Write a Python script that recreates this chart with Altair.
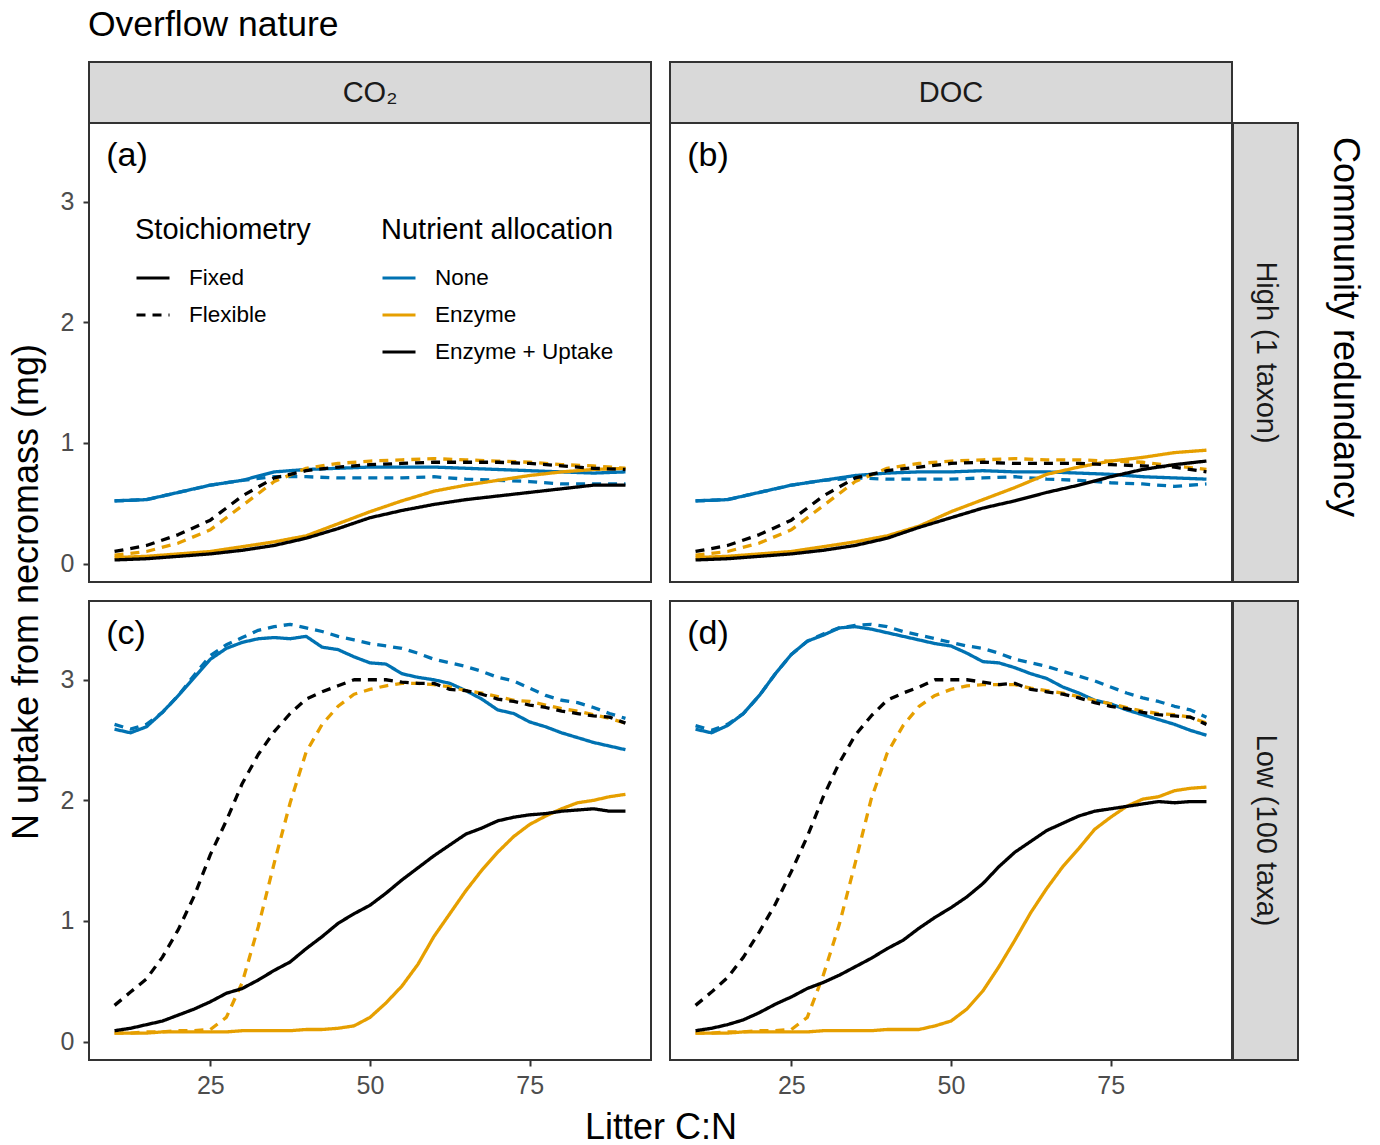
import altair as alt
import pandas as pd

# ---- data -------------------------------------------------------------
alloc_levels = ["None", "Enzyme", "Enzyme + Uptake"]
alloc_colors = ["#0072B2", "#E69F00", "#000000"]
stoich_levels = ["Fixed", "Flexible"]

# litter C:N grid, high-redundancy runs (1 taxon)
cn_high = [10, 15, 20, 25, 30, 35, 40, 45, 50, 55, 60, 65, 70, 75, 80, 85, 90]
# litter C:N grid, low-redundancy runs (100 taxa)
cn_low = [10, 12.5, 15, 17.5, 20, 22.5, 25, 27.5, 30, 32.5, 35, 37.5, 40, 42.5,
          45, 47.5, 50, 52.5, 55, 57.5, 60, 62.5, 65, 67.5, 70, 72.5, 75, 77.5,
          80, 82.5, 85, 87.5, 90]

# High redundancy, CO2 overflow
hi_co2_none_fix = [0.52, 0.53, 0.59, 0.65, 0.69, 0.76, 0.78, 0.79, 0.80, 0.80, 0.80, 0.79, 0.78, 0.77, 0.76, 0.75, 0.76]
hi_co2_none_flex = [0.52, 0.53, 0.59, 0.65, 0.69, 0.72, 0.72, 0.71, 0.71, 0.71, 0.72, 0.70, 0.69, 0.68, 0.66, 0.66, 0.66]
hi_co2_enz_fix = [0.05, 0.06, 0.08, 0.10, 0.14, 0.18, 0.23, 0.33, 0.43, 0.52, 0.60, 0.65, 0.69, 0.73, 0.76, 0.78, 0.79]
hi_co2_enz_flex = [0.07, 0.10, 0.17, 0.28, 0.48, 0.68, 0.79, 0.83, 0.85, 0.86, 0.87, 0.86, 0.85, 0.84, 0.82, 0.81, 0.79]
hi_co2_eu_fix = [0.03, 0.04, 0.06, 0.08, 0.11, 0.15, 0.21, 0.29, 0.38, 0.44, 0.49, 0.53, 0.56, 0.59, 0.62, 0.65, 0.65]
hi_co2_eu_flex = [0.10, 0.15, 0.24, 0.36, 0.56, 0.71, 0.77, 0.80, 0.82, 0.83, 0.84, 0.84, 0.84, 0.83, 0.81, 0.79, 0.78]

# High redundancy, DOC overflow
hi_doc_none_fix = [0.52, 0.53, 0.59, 0.65, 0.69, 0.73, 0.75, 0.76, 0.76, 0.77, 0.76, 0.76, 0.75, 0.74, 0.72, 0.71, 0.70]
hi_doc_none_flex = [0.52, 0.53, 0.59, 0.65, 0.69, 0.71, 0.70, 0.70, 0.70, 0.71, 0.72, 0.70, 0.69, 0.67, 0.66, 0.64, 0.66]
hi_doc_enz_fix = [0.05, 0.06, 0.08, 0.10, 0.14, 0.18, 0.23, 0.31, 0.43, 0.53, 0.63, 0.74, 0.80, 0.85, 0.88, 0.92, 0.94]
hi_doc_enz_flex = [0.07, 0.10, 0.17, 0.28, 0.48, 0.68, 0.79, 0.83, 0.85, 0.86, 0.87, 0.86, 0.86, 0.85, 0.84, 0.81, 0.78]
hi_doc_eu_fix = [0.03, 0.04, 0.06, 0.08, 0.11, 0.15, 0.21, 0.30, 0.38, 0.46, 0.52, 0.59, 0.65, 0.72, 0.78, 0.82, 0.85]
hi_doc_eu_flex = [0.10, 0.15, 0.24, 0.36, 0.56, 0.71, 0.77, 0.80, 0.83, 0.84, 0.83, 0.83, 0.83, 0.82, 0.81, 0.80, 0.76]

# Low redundancy, CO2 overflow
lo_co2_none_fix = [2.59, 2.56, 2.61, 2.73, 2.87, 3.02, 3.17, 3.26, 3.31, 3.34, 3.35, 3.34, 3.36, 3.27,
                   3.25, 3.19, 3.14, 3.13, 3.05, 3.02, 3.00, 2.97, 2.91, 2.84, 2.75, 2.72, 2.65, 2.61,
                   2.56, 2.52, 2.48, 2.45, 2.42]
lo_co2_none_flex = [2.63, 2.59, 2.63, 2.73, 2.87, 3.04, 3.20, 3.29, 3.35, 3.41, 3.44, 3.46, 3.43, 3.40,
                    3.36, 3.33, 3.30, 3.28, 3.26, 3.22, 3.17, 3.14, 3.11, 3.07, 3.02, 2.99, 2.93, 2.87,
                    2.83, 2.81, 2.77, 2.72, 2.68]
lo_co2_enz_fix = [0.07, 0.07, 0.07, 0.08, 0.08, 0.08, 0.08, 0.08, 0.09, 0.09, 0.09, 0.09, 0.10, 0.10,
                  0.11, 0.13, 0.20, 0.32, 0.46, 0.64, 0.87, 1.06, 1.25, 1.42, 1.57, 1.70, 1.80, 1.87,
                  1.93, 1.98, 2.00, 2.03, 2.05]
lo_co2_enz_flex = [0.07, 0.07, 0.08, 0.08, 0.09, 0.09, 0.10, 0.20, 0.49, 0.95, 1.48, 1.98, 2.40, 2.63,
                   2.78, 2.88, 2.92, 2.95, 2.97, 2.97, 2.96, 2.94, 2.91, 2.89, 2.86, 2.83, 2.82, 2.79,
                   2.76, 2.74, 2.71, 2.68, 2.64]
lo_co2_eu_fix = [0.09, 0.11, 0.14, 0.17, 0.22, 0.27, 0.33, 0.40, 0.44, 0.51, 0.59, 0.66, 0.77, 0.87,
                 0.98, 1.06, 1.13, 1.23, 1.34, 1.44, 1.54, 1.63, 1.72, 1.77, 1.83, 1.86, 1.88, 1.89,
                 1.91, 1.92, 1.93, 1.91, 1.91]
lo_co2_eu_flex = [0.30, 0.41, 0.52, 0.70, 0.93, 1.21, 1.55, 1.83, 2.14, 2.38, 2.57, 2.72, 2.84, 2.90,
                  2.95, 3.00, 3.00, 3.00, 2.98, 2.97, 2.97, 2.92, 2.91, 2.88, 2.84, 2.82, 2.79, 2.77,
                  2.74, 2.72, 2.70, 2.69, 2.64]

# Low redundancy, DOC overflow
lo_doc_none_fix = [2.59, 2.56, 2.62, 2.72, 2.87, 3.05, 3.21, 3.32, 3.37, 3.43, 3.44, 3.42, 3.39, 3.36,
                   3.33, 3.30, 3.28, 3.22, 3.15, 3.14, 3.10, 3.05, 3.01, 2.94, 2.89, 2.83, 2.80, 2.75,
                   2.71, 2.67, 2.63, 2.58, 2.54]
lo_doc_none_flex = [2.62, 2.58, 2.63, 2.72, 2.87, 3.05, 3.21, 3.32, 3.38, 3.43, 3.45, 3.46, 3.44, 3.40,
                    3.37, 3.34, 3.31, 3.28, 3.26, 3.22, 3.17, 3.14, 3.11, 3.07, 3.03, 2.99, 2.94, 2.89,
                    2.85, 2.82, 2.78, 2.75, 2.69]
lo_doc_enz_fix = [0.07, 0.07, 0.07, 0.08, 0.08, 0.08, 0.08, 0.08, 0.09, 0.09, 0.09, 0.09, 0.10, 0.10,
                  0.10, 0.13, 0.17, 0.27, 0.42, 0.62, 0.84, 1.07, 1.27, 1.45, 1.60, 1.76, 1.86, 1.95,
                  2.01, 2.03, 2.08, 2.10, 2.11]
lo_doc_enz_flex = [0.07, 0.07, 0.08, 0.08, 0.09, 0.09, 0.10, 0.20, 0.55, 0.97, 1.48, 2.01, 2.39, 2.62,
                   2.78, 2.87, 2.92, 2.95, 2.96, 2.96, 2.96, 2.93, 2.91, 2.89, 2.86, 2.83, 2.80, 2.77,
                   2.74, 2.72, 2.71, 2.69, 2.64]
lo_doc_eu_fix = [0.09, 0.11, 0.14, 0.18, 0.24, 0.31, 0.37, 0.44, 0.49, 0.55, 0.62, 0.69, 0.77, 0.84,
                 0.94, 1.03, 1.11, 1.20, 1.31, 1.45, 1.57, 1.66, 1.75, 1.81, 1.87, 1.91, 1.93, 1.95,
                 1.97, 1.99, 1.98, 1.99, 1.99]
lo_doc_eu_flex = [0.30, 0.41, 0.53, 0.70, 0.91, 1.14, 1.41, 1.70, 2.03, 2.31, 2.54, 2.70, 2.83, 2.89,
                  2.94, 3.00, 3.00, 3.00, 2.98, 2.96, 2.97, 2.92, 2.90, 2.88, 2.85, 2.81, 2.78, 2.76,
                  2.73, 2.71, 2.70, 2.69, 2.63]

panel_tags = ["(a)", "(b)", "(c)", "(d)"]
tag_cn = 8.7
tag_n = 3.38

overflow_labels = ["CO\u2082", "DOC"]
redundancy_labels = ["High (1 taxon)", "Low (100 taxa)"]
figure_title = "Overflow nature"
redundancy_title = "Community redundancy"

y_ticks = [0, 1, 2, 3]
x_ticks = [25, 50, 75]


def long_table(cn, groups):
    rows = []
    for (alloc, stoich), values in groups.items():
        for c, v in zip(cn, values):
            rows.append({"cn": c, "n": v, "alloc": alloc, "stoich": stoich})
    return pd.DataFrame(rows)


df_a = long_table(cn_high, {
    ("None", "Fixed"): hi_co2_none_fix, ("None", "Flexible"): hi_co2_none_flex,
    ("Enzyme", "Fixed"): hi_co2_enz_fix, ("Enzyme", "Flexible"): hi_co2_enz_flex,
    ("Enzyme + Uptake", "Fixed"): hi_co2_eu_fix, ("Enzyme + Uptake", "Flexible"): hi_co2_eu_flex})
df_b = long_table(cn_high, {
    ("None", "Fixed"): hi_doc_none_fix, ("None", "Flexible"): hi_doc_none_flex,
    ("Enzyme", "Fixed"): hi_doc_enz_fix, ("Enzyme", "Flexible"): hi_doc_enz_flex,
    ("Enzyme + Uptake", "Fixed"): hi_doc_eu_fix, ("Enzyme + Uptake", "Flexible"): hi_doc_eu_flex})
df_c = long_table(cn_low, {
    ("None", "Fixed"): lo_co2_none_fix, ("None", "Flexible"): lo_co2_none_flex,
    ("Enzyme", "Fixed"): lo_co2_enz_fix, ("Enzyme", "Flexible"): lo_co2_enz_flex,
    ("Enzyme + Uptake", "Fixed"): lo_co2_eu_fix, ("Enzyme + Uptake", "Flexible"): lo_co2_eu_flex})
df_d = long_table(cn_low, {
    ("None", "Fixed"): lo_doc_none_fix, ("None", "Flexible"): lo_doc_none_flex,
    ("Enzyme", "Fixed"): lo_doc_enz_fix, ("Enzyme", "Flexible"): lo_doc_enz_flex,
    ("Enzyme + Uptake", "Fixed"): lo_doc_eu_fix, ("Enzyme + Uptake", "Flexible"): lo_doc_eu_flex})

# ---- styling ----------------------------------------------------------
FONT = "Liberation Sans"
PW, PH = 562, 459          # panel size
STRIP_H, STRIP_W = 61, 65  # strip thickness
GAP = 19
BORDER = "#333333"
STRIP_FILL = "#D9D9D9"

x_scale = alt.Scale(domain=[6, 94], nice=False, zero=False)
y_scale = alt.Scale(domain=[-0.153, 3.653], nice=False, zero=False)

tick_style = dict(tickSize=6, tickWidth=2, tickColor=BORDER, labelFontSize=25,
                  labelColor="#4D4D4D", labelFont=FONT, domain=False, grid=False)


def x_axis(show, title=False):
    if not show:
        return None
    if title:
        extra = dict(title="Litter C:N", titleFontSize=36, titleFont=FONT,
                     titleFontWeight="normal", titleColor="black",
                     titleX=PW + GAP / 2, titleY=67, titleAlign="center",
                     titleBaseline="middle")
    else:
        extra = dict(title=None)
    return alt.Axis(values=x_ticks, labelPadding=7, **tick_style, **extra)


def y_axis(show, title=False):
    if not show:
        return None
    if title:
        extra = dict(title="N uptake from necromass (mg)", titleFontSize=36,
                     titleFont=FONT, titleFontWeight="normal", titleColor="black",
                     titleX=-63, titleY=PH + GAP / 2, titleAngle=270,
                     titleAlign="center", titleBaseline="middle")
    else:
        extra = dict(title=None)
    return alt.Axis(values=y_ticks, format="d", labelPadding=9, **tick_style, **extra)


legend_style = dict(
    orient="none", legendY=93, direction="vertical",
    symbolType="stroke", symbolSize=1089, symbolStrokeWidth=3,
    titleFontSize=29, titleFont=FONT, titleFontWeight="normal", titleColor="black",
    labelFontSize=22.5, labelFont=FONT, labelColor="black", labelOffset=18,
    titlePadding=15, rowPadding=7, padding=0, labelLimit=400, titleLimit=400)

dash_legend = alt.Legend(title="Stoichiometry", legendX=46, symbolStrokeColor="black",
                         **legend_style)
color_legend = alt.Legend(title="Nutrient allocation", legendX=292, **legend_style)


def strip_text(text, x, y, size=29, angle=0, color="#1A1A1A"):
    return alt.Chart(pd.DataFrame({"label": [text]})).mark_text(
        fontSize=size, font=FONT, color=color, angle=angle, baseline="middle",
        align="center").encode(text="label:N", x=alt.value(x), y=alt.value(y))


def strip_box(x, x2, y, y2):
    return alt.Chart(pd.DataFrame({"label": [""]})).mark_rect(
        fill=STRIP_FILL, stroke=BORDER, strokeWidth=2).encode(
        x=alt.value(x), x2=alt.value(x2), y=alt.value(y), y2=alt.value(y2))


def top_strip(text):
    return [strip_box(0, PW, -STRIP_H, 0), strip_text(text, PW / 2, -STRIP_H / 2)]


def right_strip(text):
    return [strip_box(PW + 1, PW + 1 + STRIP_W, 0, PH),
            strip_text(text, PW + 1 + STRIP_W / 2, PH / 2, angle=90)]


def panel(df, tag, show_x, show_y, x_title=False, y_title=False, extras=()):
    xa = x_axis(show_x, x_title)
    ya = y_axis(show_y, y_title)
    x_enc = alt.X("cn:Q", scale=x_scale, axis=xa)
    y_enc = alt.Y("n:Q", scale=y_scale, axis=ya)
    lines = alt.Chart(df).mark_line(strokeWidth=3.3, strokeJoin="round").encode(
        x=x_enc,
        y=y_enc,
        color=alt.Color("alloc:N", scale=alt.Scale(domain=alloc_levels, range=alloc_colors),
                        legend=color_legend),
        strokeDash=alt.StrokeDash("stoich:N",
                                  scale=alt.Scale(domain=stoich_levels, range=[[1, 0], [9, 7]]),
                                  legend=dash_legend),
        order=alt.Order("cn:Q"),
    )
    tag_df = pd.DataFrame({"cn": [tag_cn], "n": [tag_n], "tag": [tag]})
    label = alt.Chart(tag_df).mark_text(align="left", baseline="middle", fontSize=34,
                                        font=FONT, color="black").encode(
        x=x_enc, y=y_enc, text="tag:N")
    return alt.layer(lines, label, *extras).properties(
        width=PW, height=PH,
        view=alt.ViewBackground(fill="white", stroke=BORDER, strokeWidth=2))


pa = panel(df_a, panel_tags[0], show_x=False, show_y=True, y_title=True,
           extras=top_strip(overflow_labels[0]) + [
               alt.Chart(pd.DataFrame({"label": [figure_title]})).mark_text(
                   fontSize=35.5, font=FONT, color="black", align="left",
                   baseline="alphabetic").encode(
                   text="label:N", x=alt.value(-1), y=alt.value(-87))])
pb = panel(df_b, panel_tags[1], show_x=False, show_y=False,
           extras=top_strip(overflow_labels[1]) + right_strip(redundancy_labels[0]) + [
               strip_text(redundancy_title, 675, 204, size=36, angle=90, color="black")])
pc = panel(df_c, panel_tags[2], show_x=True, show_y=True, x_title=True)
pd_ = panel(df_d, panel_tags[3], show_x=True, show_y=False,
            extras=right_strip(redundancy_labels[1]))

chart = alt.concat(pa, pb, pc, pd_, columns=2, spacing=GAP, bounds="flush").properties(
    padding={"left": 6, "top": 7, "right": 5, "bottom": 5}
).configure(font=FONT, background="white")

chart.save("out.html", embed_options={"renderer": "svg", "actions": False})
